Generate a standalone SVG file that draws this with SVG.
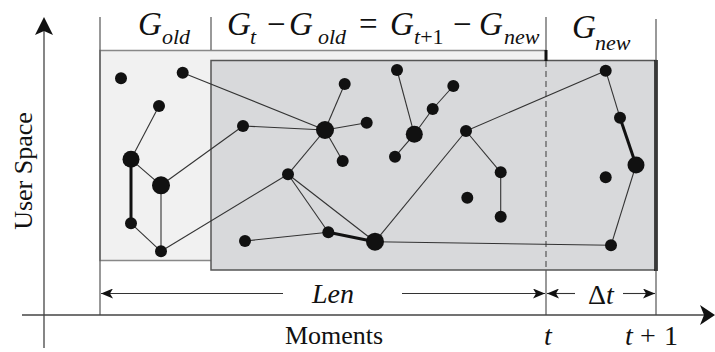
<svg xmlns="http://www.w3.org/2000/svg" width="715" height="352" viewBox="0 0 715 352">
<style>
.guide{stroke:#555;stroke-width:1.2;fill:none}
.e{stroke:#333;stroke-width:1.1;fill:none}
.et{stroke:#111;stroke-width:3;fill:none}
.n{fill:#111}
.m{font-family:"Liberation Serif",serif;font-style:italic;font-size:33px;fill:#111}
.sub{font-size:22px}
.up{font-style:normal}
.lbl{font-family:"Liberation Serif",serif;font-size:26px;fill:#111}
.it{font-family:"Liberation Serif",serif;font-style:italic;font-size:28px;fill:#111}
</style>
<defs>
<marker id="ah" viewBox="0 0 12 10" refX="12" refY="5" markerWidth="12" markerHeight="10" markerUnits="userSpaceOnUse" orient="auto-start-reverse">
<path d="M0,0 L12,5 L0,10 L3,5 Z" fill="#111"/>
</marker>
</defs>
<g id="regions">
<rect x="100" y="50.5" width="446" height="210" fill="#f1f1f1" stroke="#888" stroke-width="1.5"/>
<rect x="211" y="60.5" width="445" height="209.5" fill="#d8d9db" stroke="#555" stroke-width="1.5"/>
<line x1="656" y1="60" x2="656" y2="271" stroke="#111" stroke-width="3.5"/>
<line x1="546" y1="50" x2="546" y2="61" stroke="#111" stroke-width="3"/>
<line x1="546" y1="61" x2="546" y2="270" stroke="#555" stroke-width="1.2" stroke-dasharray="6,4"/>
</g>
<g id="guides">
<line class="guide" x1="100" y1="17" x2="100" y2="315"/>
<line class="guide" x1="211" y1="17" x2="211" y2="50"/>
<line class="guide" x1="546" y1="17" x2="546" y2="50"/>
<line class="guide" x1="546" y1="270" x2="546" y2="315"/>
<line class="guide" x1="656" y1="19" x2="656" y2="315"/>
</g>
<g id="axes">
<line x1="22" y1="315" x2="704" y2="315" stroke="#444" stroke-width="1.3"/>
<path d="M715,315 L700,305 L704,315 L700,325 Z" fill="#111"/>
<line x1="44" y1="30" x2="44" y2="348" stroke="#444" stroke-width="1.3"/>
<path d="M44,17 L35,35 L44,31 L53,35 Z" fill="#111"/>
</g>
<g id="connectors">
<line class="e" x1="182.7" y1="72.7" x2="325" y2="130"/>
<line class="e" x1="159" y1="106" x2="131" y2="159.3"/>
<line class="e" x1="131" y1="159.3" x2="161" y2="185.3"/>
<line class="et" x1="131" y1="159.3" x2="131" y2="223.3"/>
<line class="e" x1="161" y1="185.3" x2="161" y2="251.3"/>
<line class="e" x1="131" y1="223.3" x2="161" y2="251.3"/>
<line class="e" x1="161" y1="185.3" x2="243" y2="126"/>
<line class="e" x1="161" y1="251.3" x2="288" y2="174.3"/>
<line class="e" x1="243" y1="126" x2="325" y2="130"/>
<line class="e" x1="325" y1="130" x2="344.7" y2="84"/>
<line class="e" x1="325" y1="130" x2="366.7" y2="122.7"/>
<line class="e" x1="325" y1="130" x2="342.7" y2="161"/>
<line class="e" x1="325" y1="130" x2="288" y2="174.3"/>
<line class="e" x1="288" y1="174.3" x2="328.3" y2="232.3"/>
<line class="e" x1="288" y1="174.3" x2="375" y2="241.7"/>
<line class="e" x1="245" y1="241" x2="328.3" y2="232.3"/>
<line class="et" x1="328.3" y1="232.3" x2="375" y2="241.7"/>
<line class="e" x1="375" y1="241.7" x2="466" y2="131"/>
<line class="e" x1="375" y1="241.7" x2="611" y2="245.3"/>
<line class="e" x1="397" y1="70" x2="414.3" y2="134.3"/>
<line class="e" x1="453.3" y1="86" x2="432.7" y2="109"/>
<line class="e" x1="432.7" y1="109" x2="414.3" y2="134.3"/>
<line class="e" x1="414.3" y1="134.3" x2="395" y2="156.7"/>
<line class="e" x1="466" y1="131" x2="605.7" y2="70.7"/>
<line class="e" x1="466" y1="131" x2="500.7" y2="172.3"/>
<line class="e" x1="500.7" y1="172.3" x2="500.7" y2="216.7"/>
<line class="e" x1="605.7" y1="70.7" x2="620" y2="117.7"/>
<line class="et" x1="620" y1="117.7" x2="636" y2="165"/>
<line class="e" x1="636" y1="165" x2="611" y2="245.3"/>
</g>
<g id="nodes">
<circle id="n1" class="n" cx="121" cy="78.3" r="6"/>
<circle id="n2" class="n" cx="182.7" cy="72.7" r="6"/>
<circle id="n3" class="n" cx="159" cy="106" r="6"/>
<circle id="n4" class="n" cx="131" cy="159.3" r="8.5"/>
<circle id="n5" class="n" cx="161" cy="185.3" r="9"/>
<circle id="n6" class="n" cx="131" cy="223.3" r="6"/>
<circle id="n7" class="n" cx="161" cy="251.3" r="6"/>
<circle id="n8" class="n" cx="243" cy="126" r="6"/>
<circle id="n9" class="n" cx="288" cy="174.3" r="6"/>
<circle id="n10" class="n" cx="245" cy="241" r="6"/>
<circle id="n11" class="n" cx="325" cy="130" r="9"/>
<circle id="n12" class="n" cx="344.7" cy="84" r="6"/>
<circle id="n13" class="n" cx="366.7" cy="122.7" r="6"/>
<circle id="n14" class="n" cx="342.7" cy="161" r="6"/>
<circle id="n15" class="n" cx="328.3" cy="232.3" r="6"/>
<circle id="n16" class="n" cx="375" cy="241.7" r="9"/>
<circle id="n17" class="n" cx="397" cy="70" r="6"/>
<circle id="n18" class="n" cx="453.3" cy="86" r="6"/>
<circle id="n19" class="n" cx="432.7" cy="109" r="6"/>
<circle id="n20" class="n" cx="414.3" cy="134.3" r="8.5"/>
<circle id="n21" class="n" cx="395" cy="156.7" r="6"/>
<circle id="n22" class="n" cx="466" cy="131" r="6"/>
<circle id="n23" class="n" cx="500.7" cy="172.3" r="6"/>
<circle id="n24" class="n" cx="467.3" cy="197.7" r="6"/>
<circle id="n25" class="n" cx="500.7" cy="216.7" r="6"/>
<circle id="n26" class="n" cx="605.7" cy="70.7" r="6"/>
<circle id="n27" class="n" cx="620" cy="117.7" r="6"/>
<circle id="n28" class="n" cx="636" cy="165" r="8.5"/>
<circle id="n29" class="n" cx="605.7" cy="177.3" r="6"/>
<circle id="n30" class="n" cx="611" cy="245.3" r="6"/>
</g>
<g id="labels">
<text class="m" x="138" y="35">G<tspan class="sub" x="162" y="44">old</tspan></text>
<text class="m" x="227" y="35">G<tspan class="sub" x="250" y="44">t</tspan><tspan class="up" x="267" y="35">−</tspan><tspan x="289">G</tspan><tspan class="sub" x="318" y="44">old</tspan><tspan class="up" x="359" y="35">=</tspan><tspan x="390">G</tspan><tspan class="sub" x="414" y="44">t<tspan class="up">+1</tspan></tspan><tspan class="up" x="453" y="35">−</tspan><tspan x="479">G</tspan><tspan class="sub" x="504" y="44">new</tspan></text>
<text class="m" x="572" y="38">G<tspan class="sub" x="595" y="50">new</tspan></text>
<text class="lbl" transform="translate(32,171) rotate(-90)" text-anchor="middle">User Space</text>
<text class="lbl" x="334" y="344" text-anchor="middle">Moments</text>
<text class="it" x="548" y="345" text-anchor="middle" font-size="30">t</text>
<text class="it" x="625" y="345" font-size="30">t<tspan class="up" x="640">+</tspan><tspan class="up" x="664">1</tspan></text>
<text class="it" x="333" y="303" text-anchor="middle">Len</text>
<text class="it" x="601" y="304" text-anchor="middle" font-size="27"><tspan class="up">Δ</tspan>t</text>
</g>
<g id="dims">
<line x1="283" y1="293.5" x2="101" y2="293.5" stroke="#333" stroke-width="1.1" marker-end="url(#ah)"/>
<line x1="402" y1="293.5" x2="545" y2="293.5" stroke="#333" stroke-width="1.1" marker-end="url(#ah)"/>
<line x1="575" y1="293.5" x2="547" y2="293.5" stroke="#333" stroke-width="1.1" marker-end="url(#ah)"/>
<line x1="623" y1="293.5" x2="655" y2="293.5" stroke="#333" stroke-width="1.1" marker-end="url(#ah)"/>
</g>
</svg>
